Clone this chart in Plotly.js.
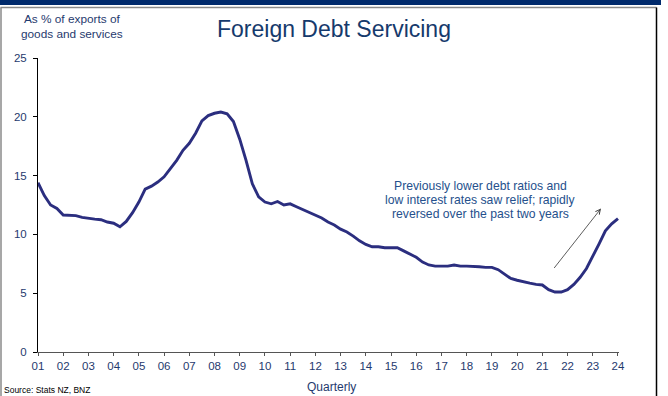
<!DOCTYPE html>
<html>
<head>
<meta charset="utf-8">
<script src="https://cdn.plot.ly/plotly-3.0.1.min.js"></script>
<style>
  html, body { margin: 0; padding: 0; background: #ffffff; }
  #chart { width: 668px; height: 396px; }
</style>
</head>
<body>
<div id="chart"></div>
<script>
// ---- Data (quarterly, 2001 Q1 to 2024 Q1), % of exports of goods and services ----
const startYear = 2001;
const debtServicing = [
  14.4, 13.3, 12.5, 12.2,     // 2001
  11.65, 11.6, 11.6, 11.45,   // 2002
  11.35, 11.3, 11.25, 11.05,  // 2003
  10.95, 10.65, 11.1, 11.85,  // 2004
  12.75, 13.85, 14.1, 14.45,  // 2005
  14.9, 15.55, 16.3, 17.15,   // 2006
  17.75, 18.6, 19.65, 20.1,   // 2007
  20.3, 20.4, 20.25, 19.6,    // 2008
  18.1, 16.3, 14.3, 13.2,     // 2009
  12.75, 12.6, 12.8, 12.5,    // 2010
  12.6, 12.35, 12.1, 11.85,   // 2011
  11.6, 11.4, 11.05, 10.8,    // 2012
  10.45, 10.2, 9.85, 9.45,    // 2013
  9.15, 8.95, 8.95, 8.87,     // 2014
  8.87, 8.87, 8.6, 8.35,      // 2015
  8.05, 7.65, 7.4, 7.3,       // 2016
  7.3, 7.3, 7.4, 7.3,         // 2017
  7.3, 7.3, 7.25, 7.2,        // 2018
  7.2, 7.0, 6.65, 6.25,       // 2019
  6.1, 5.95, 5.85, 5.75,      // 2020
  5.7, 5.3, 5.1, 5.1,         // 2021
  5.3, 5.75, 6.35, 7.1,       // 2022
  8.1, 9.2, 10.3, 10.9,       // 2023
  11.35                       // 2024
];
const tickYears = [2001,2002,2003,2004,2005,2006,2007,2008,2009,2010,2011,2012,
                   2013,2014,2015,2016,2017,2018,2019,2020,2021,2022,2023,2024];
const tickLabels = ['01','02','03','04','05','06','07','08','09','10','11','12',
                    '13','14','15','16','17','18','19','20','21','22','23','24'];
const yTicks = [0, 5, 10, 15, 20, 25];

const titleText = 'Foreign Debt Servicing';
const yLabelLines = ['As % of exports of', 'goods and services'];
const xLabel = 'Quarterly';
const sourceText = 'Source: Stats NZ, BNZ';
const noteLines = ['Previously lower debt ratios and',
                   'low interest rates saw relief; rapidly',
                   'reversed over the past two years'];

// quarter index -> decimal year
const xVals = debtServicing.map((_, i) => startYear + i / 4);

// ---- Layout geometry ----
const W = 668, H = 396;
const M = { l: 38, r: 49, t: 58, b: 44 };
const PW = W - M.l - M.r, PH = H - M.t - M.b;
const px = x => (x - M.l) / PW;          // pixel x -> paper
const py = y => (H - M.b - y) / PH;      // pixel y -> paper

const FONT = 'Liberation Sans, Arial, Helvetica, sans-serif';
const NAVY = '#1f3a6e';

const annotations = [
  { text: titleText, xref: 'paper', yref: 'paper', x: px(333.5), y: py(29),
    xanchor: 'center', yanchor: 'middle', showarrow: false,
    font: { family: FONT, size: 23, color: '#163a6c' } },
  { text: yLabelLines[0], xref: 'paper', yref: 'paper', x: px(71.5), y: py(19),
    xanchor: 'center', yanchor: 'middle', showarrow: false,
    font: { family: FONT, size: 11.8, color: NAVY } },
  { text: yLabelLines[1], xref: 'paper', yref: 'paper', x: px(72), y: py(34.5),
    xanchor: 'center', yanchor: 'middle', showarrow: false,
    font: { family: FONT, size: 11.8, color: NAVY } },
  { text: xLabel, xref: 'paper', yref: 'paper', x: px(331), y: py(386.5),
    xanchor: 'center', yanchor: 'middle', showarrow: false,
    font: { family: FONT, size: 12, color: NAVY } },
  { text: sourceText, xref: 'paper', yref: 'paper', x: px(2), y: py(389.5),
    xanchor: 'left', yanchor: 'middle', showarrow: false,
    font: { family: FONT, size: 8.5, color: '#000000' } },
  // arrow
  { text: '', xref: 'paper', yref: 'paper', x: px(601), y: py(208.5),
    axref: 'pixel', ayref: 'pixel', ax: -48, ay: 61,
    showarrow: true, arrowhead: 5, arrowsize: 1.2, arrowwidth: 0.8,
    arrowcolor: '#333333', standoff: 0, startstandoff: 0 }
];
const noteY = [185.5, 199.5, 213.5];
noteLines.forEach((t, i) => annotations.push({
  text: t, xref: 'paper', yref: 'paper', x: px(480.5), y: py(noteY[i]),
  xanchor: 'center', yanchor: 'middle', showarrow: false,
  font: { family: FONT, size: 12.2, color: '#25508c' }
}));

const shapes = [
  // dark top band
  { type: 'rect', xref: 'paper', yref: 'paper', x0: px(0), x1: px(661), y0: py(0), y1: py(5),
    fillcolor: '#002a6c', line: { width: 0 }, layer: 'above' },
  // frame: top (grey), left (grey), right (black)
  { type: 'line', xref: 'paper', yref: 'paper', x0: px(0.5), x1: px(656.5), y0: py(7.5), y1: py(7.5),
    line: { color: '#8a8a8a', width: 1.5 } },
  { type: 'line', xref: 'paper', yref: 'paper', x0: px(1), x1: px(1), y0: py(7.5), y1: py(396),
    line: { color: '#8a8a8a', width: 1.5 } },
  { type: 'line', xref: 'paper', yref: 'paper', x0: px(656.5), x1: px(656.5), y0: py(7.5), y1: py(396),
    line: { color: '#000000', width: 1.5 } }
];

const trace = {
  type: 'scatter', mode: 'lines',
  x: xVals, y: debtServicing,
  line: { color: '#2b2e7f', width: 2.9, shape: 'linear' },
  hoverinfo: 'skip'
};

const layout = {
  width: W, height: H,
  margin: M,
  paper_bgcolor: '#ffffff', plot_bgcolor: '#ffffff',
  showlegend: false,
  font: { family: FONT, color: NAVY },
  xaxis: {
    range: [startYear, 2024.04],
    tickmode: 'array', tickvals: tickYears, ticktext: tickLabels,
    showgrid: false, zeroline: false,
    showline: true, linecolor: '#555555', linewidth: 1,
    ticks: 'outside', ticklen: 3, tickwidth: 1, tickcolor: '#555555',
    tickfont: { family: FONT, size: 11.5, color: NAVY },
    fixedrange: true
  },
  yaxis: {
    range: [0, 25],
    tickmode: 'array', tickvals: yTicks,
    showgrid: false, zeroline: false,
    showline: true, linecolor: '#000000', linewidth: 1,
    ticks: 'outside', ticklen: 4, tickwidth: 1, tickcolor: '#000000',
    tickfont: { family: FONT, size: 11.5, color: NAVY },
    ticklabelstandoff: 4,
    fixedrange: true
  },
  annotations: annotations,
  shapes: shapes
};

Plotly.newPlot('chart', [trace], layout, { staticPlot: true, displayModeBar: false });
</script>
</body>
</html>
